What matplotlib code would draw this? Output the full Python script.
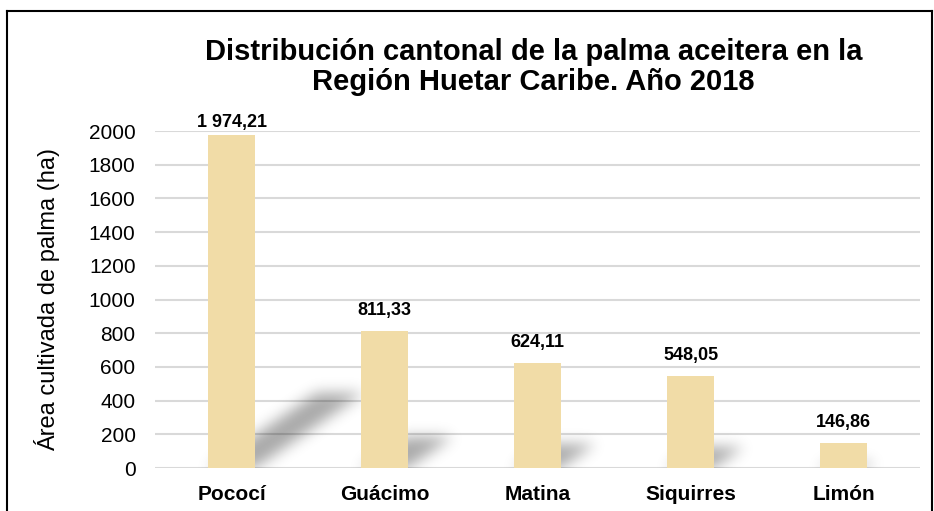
import numpy as np
import matplotlib
matplotlib.use("Agg")
import matplotlib.pyplot as plt
from matplotlib.lines import Line2D

# data
cantones = ["Pococí", "Guácimo", "Matina", "Siquirres", "Limón"]
area_ha = [1974.21, 811.33, 624.11, 548.05, 146.86]
etiquetas = ["1 974,21", "811,33", "624,11", "548,05", "146,86"]

plt.rcParams["font.family"] = ["Liberation Sans", "DejaVu Sans"]

bar_color = "#F1DCA7"
bar_w = 0.31

fig = plt.figure(figsize=(9.34, 5.11), dpi=100)
ax = fig.add_axes([0.166, 0.0841, 0.819, 0.6595])

x = np.arange(len(cantones))
ax.set_xlim(-0.5, len(cantones) - 0.5)
ax.set_ylim(0, 2000)

# blurred oblique shadows behind the bars
nx, ny = 765, 337
gx = np.linspace(-0.5, len(cantones) - 0.5, nx)
gy = np.linspace(0, 2000, ny)
XX, YY = np.meshgrid(gx, gy)
mask = np.zeros_like(XX)
for c, h in zip(x, area_ha):
    dx = 3.6e-4 * h
    dy = 0.225 * h
    t = YY / dy
    sx = XX - t * dx
    inside = (t >= 0) & (t <= 1) & (sx >= c - bar_w / 2) & (sx <= c + bar_w / 2)
    mask[inside] = 1.0


def blur(a, sigma):
    r = int(3 * sigma)
    k = np.exp(-0.5 * (np.arange(-r, r + 1) / sigma) ** 2)
    k /= k.sum()
    a = np.apply_along_axis(lambda m: np.convolve(m, k, mode="same"), 0, a)
    a = np.apply_along_axis(lambda m: np.convolve(m, k, mode="same"), 1, a)
    return a


mask = blur(mask, 7)
img = np.zeros((ny, nx, 4))
img[..., 3] = 0.34 * mask
ax.imshow(img, extent=(-0.5, len(cantones) - 0.5, 0, 2000), origin="lower",
          aspect="auto", zorder=2, interpolation="bilinear")

ax.bar(x, area_ha, width=bar_w, color=bar_color, zorder=3)

# value labels (the tallest one sits closer so it stays inside the frame)
for xi, v, lab in zip(x, area_ha, etiquetas):
    gap = 5.8 if v > 1900 else 11.5
    ax.annotate(lab, (xi, v), xytext=(0, gap), textcoords="offset points",
                ha="center", va="baseline", fontsize=13, fontweight="bold",
                annotation_clip=False)

ax.set_yticks(range(0, 2001, 200))
ax.yaxis.grid(True, color="#D9D9D9", linewidth=1.5, zorder=0)
ax.set_axisbelow(True)
ax.tick_params(axis="y", length=0, labelsize=15, pad=14)
ax.tick_params(axis="x", length=0, labelsize=15, pad=12)
ax.set_xticks(x)
ax.set_xticklabels(cantones, fontweight="bold")
for s in ax.spines.values():
    s.set_visible(False)

ax.set_ylabel("Área cultivada de palma (ha)", fontsize=17, labelpad=21)

fig.text(0.571, 0.925, "Distribución cantonal de la palma aceitera en la\nRegión Huetar Caribe. Año 2018",
         ha="center", va="top", fontsize=21, fontweight="bold", linespacing=1.06)

# frame around the figure
fig.add_artist(Line2D([0.0075, 0.0075], [0, 0.979], color="black", lw=1.5))
fig.add_artist(Line2D([0.0075, 0.998], [0.979, 0.979], color="black", lw=1.5))
fig.add_artist(Line2D([0.998, 0.998], [0, 0.979], color="black", lw=1.5))

fig.savefig("out.png", dpi=100)
